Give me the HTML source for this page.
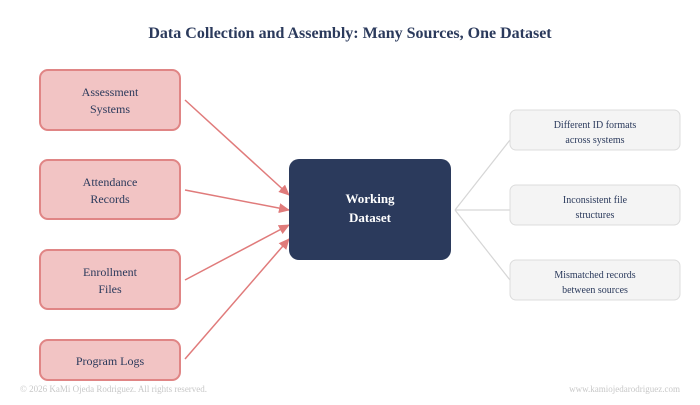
<!DOCTYPE html>
<html><head><style>body{margin:0;background:#fff}</style></head><body>
<svg width="700" height="400" xmlns="http://www.w3.org/2000/svg" font-family="Liberation Serif, serif">
<defs><marker id="a" markerWidth="11" markerHeight="10" refX="10" refY="5" orient="auto" markerUnits="userSpaceOnUse"><path d="M0,0 L11,5 L0,10 z" fill="#e07b7b"/></marker></defs>
<rect width="700" height="400" fill="#fff"/>
<text x="350" y="38" text-anchor="middle" font-size="16" font-weight="bold" fill="#2b3a5c">Data Collection and Assembly: Many Sources, One Dataset</text>
<g fill="#f2c4c4" stroke="#e08585" stroke-width="2">
<rect x="40" y="70" width="140" height="60" rx="8"/>
<rect x="40" y="160" width="140" height="59" rx="8"/>
<rect x="40" y="250" width="140" height="59" rx="8"/>
<rect x="40" y="340" width="140" height="40" rx="8"/>
</g>
<g font-size="12" fill="#2b3a5c" text-anchor="middle">
<text x="110" y="96">Assessment</text><text x="110" y="113">Systems</text>
<text x="110" y="186">Attendance</text><text x="110" y="203">Records</text>
<text x="110" y="276">Enrollment</text><text x="110" y="293">Files</text>
<text x="110" y="365">Program Logs</text>
</g>
<g stroke="#e07b7b" stroke-width="1.5" marker-end="url(#a)">
<line x1="185" y1="100" x2="289" y2="195"/>
<line x1="185" y1="190" x2="289" y2="210"/>
<line x1="185" y1="280" x2="289" y2="225"/>
<line x1="185" y1="359" x2="289" y2="239"/>
</g>
<rect x="289" y="159" width="162" height="101" rx="10" fill="#2b3a5c"/>
<text x="370" y="203" text-anchor="middle" font-size="13" font-weight="bold" fill="#fff">Working</text>
<text x="370" y="222" text-anchor="middle" font-size="13" font-weight="bold" fill="#fff">Dataset</text>
<g stroke="#d6d6d6" stroke-width="1.2" fill="none">
<line x1="455" y1="210" x2="510" y2="140"/>
<line x1="455" y1="210" x2="510" y2="210"/>
<line x1="455" y1="210" x2="510" y2="280"/>
</g>
<g fill="#f4f4f4" stroke="#dcdcdc" stroke-width="1">
<rect x="510" y="110" width="170" height="40" rx="6"/>
<rect x="510" y="185" width="170" height="40" rx="6"/>
<rect x="510" y="260" width="170" height="40" rx="6"/>
</g>
<g font-size="10" fill="#2b3a5c" text-anchor="middle">
<text x="595" y="128">Different ID formats</text><text x="595" y="143">across systems</text>
<text x="595" y="203">Inconsistent file</text><text x="595" y="218">structures</text>
<text x="595" y="278">Mismatched records</text><text x="595" y="293">between sources</text>
</g>
<text x="20" y="392" font-size="9" fill="#c8c8c8">© 2026 KaMi Ojeda Rodriguez. All rights reserved.</text>
<text x="680" y="392" font-size="9" fill="#c8c8c8" text-anchor="end">www.kamiojedarodriguez.com</text>
</svg>
</body></html>
